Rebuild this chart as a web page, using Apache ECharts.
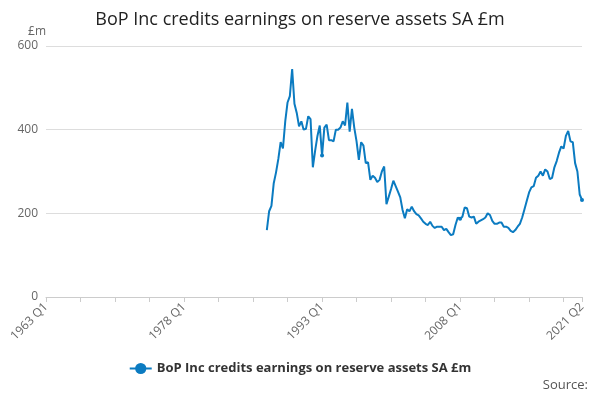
<!DOCTYPE html>
<html><head><meta charset="utf-8">
<script src="https://cdn.jsdelivr.net/npm/echarts@6/dist/echarts.min.js"></script>
<style>body{margin:0}#c{width:600px;height:400px}</style></head>
<body><div id="c"></div>
<script>
// quarterly values, 1987 Q1 .. 2021 Q2
const startYear = 1987;
const values = [
  160, 205, 218, 272, 298, 330, 370, 355, 420, 465, 480, 545, 462, 440, 408, 420,
  400, 402, 432, 425, 310, 350, 385, 410, 338, 405, 412, 375, 375, 372, 400, 400,
  405, 420, 410, 465, 395, 450, 405, 372, 328, 370, 362, 320, 322, 280, 290, 285,
  275, 280, 300, 312, 222, 240, 258, 278, 265, 252, 238, 208, 188, 210, 205, 216,
  205, 198, 195, 188, 180, 175, 172, 180, 170, 165, 168, 168, 168, 160, 163, 155,
  148, 150, 172, 190, 187, 192, 214, 212, 192, 190, 192, 175, 180, 183, 186, 190,
  200, 196, 182, 175, 175, 178, 178, 168, 168, 165, 158, 155, 160, 168, 175, 190,
  210, 230, 250, 262, 265, 285, 290, 300, 290, 305, 300, 282, 285, 310, 325, 345,
  360, 355, 385, 397, 372, 370, 320, 300, 245, 232
];
const shownLabels = ["1963 Q1", "1978 Q1", "1993 Q1", "2008 Q1", "2021 Q2"];
const seriesName = "BoP Inc credits earnings on reserve assets SA £m";

const categories = [];
for (let y = 1963; y <= 2021; y++) {
  for (let q = 1; q <= 4; q++) {
    if (y === 2021 && q > 2) break;
    categories.push(y + " Q" + q);
  }
}
const offset = categories.indexOf(startYear + " Q1");
const data = categories.map((c, i) => (i >= offset ? values[i - offset] : null));

const chart = echarts.init(document.getElementById("c"));
chart.setOption({
  textStyle: { fontFamily: "Open Sans" },
  title: {
    text: "BoP Inc credits earnings on reserve assets SA £m",
    left: "center", top: 6,
    textStyle: { fontSize: 18, fontWeight: "normal", color: "#222" }
  },
  grid: { left: 46, right: 18, top: 46, bottom: 103 },
  xAxis: {
    type: "category", data: categories, boundaryGap: false,
    axisLine: { lineStyle: { color: "#ccc" } },
    axisTick: { interval: 14, lineStyle: { color: "#ccc" } },
    axisLabel: {
      interval: (i, v) => shownLabels.includes(v),
      rotate: 45, color: "#666", fontSize: 12, showMaxLabel: true
    }
  },
  yAxis: {
    type: "value", min: 0, max: 600, interval: 200,
    name: "£m", nameLocation: "end", nameGap: 8,
    nameTextStyle: { align: "right", color: "#666", padding: [0, 0, 0, 0] },
    axisLabel: { color: "#666", fontSize: 12 },
    splitLine: { lineStyle: { color: "#ddd" } }
  },
  legend: {
    bottom: 20, left: "center",
    textStyle: { fontSize: 13, fontWeight: "bold", color: "#333" },
    itemWidth: 22
  },
  graphic: [{
    type: "text", right: 12, bottom: 8,
    style: { text: "Source:", fontSize: 13, fill: "#555", fontFamily: "Open Sans" }
  }],
  series: [{
    name: seriesName, type: "line", data: data,
    symbol: "circle", symbolSize: 4, showSymbol: true,
    lineStyle: { color: "#0b7bc1", width: 2 },
    itemStyle: { color: "#0b7bc1" }
  }]
});
</script></body></html>
